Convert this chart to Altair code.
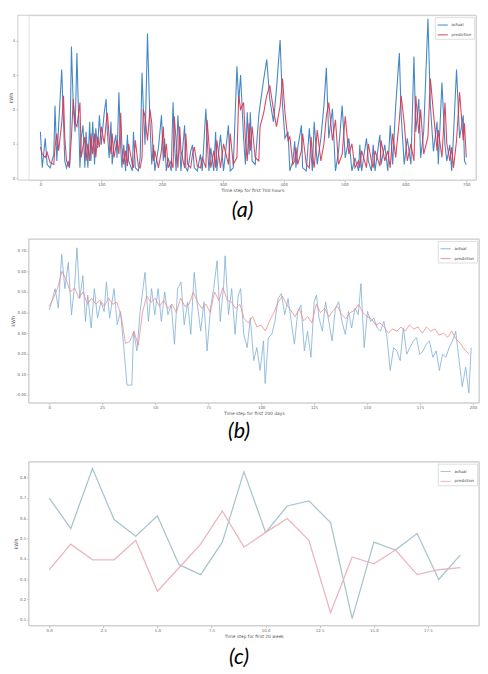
import altair as alt
import pandas as pd

SERIES = ["actual", "prediction"]
Y_TITLE = "kWh"
X_TITLES = ["Time step for first 700 hours", "Time step for first 200 days", "Time step for first 20 week"]
CAPTIONS = ["(a)", "(b)", "(c)"]

# ---------------- (a) hourly ----------------
A_HOURS = [0, 3, 8, 11, 16, 22, 24, 27, 30, 35, 38, 40, 43, 46, 48, 51, 54, 57, 60, 65, 67, 70, 73, 75, 78, 81, 83, 86, 89, 91,
           94, 97, 100, 105, 108, 110, 113, 116, 118, 121, 124, 126, 129, 132, 134, 137, 140, 143, 145, 151, 153, 156, 161, 164,
           167, 169, 172, 176, 180, 183, 186, 188, 194, 199, 202, 204, 207, 210, 215, 218, 220, 223, 226, 229, 231, 237, 239, 242,
           247, 250, 253, 258, 263, 266, 272, 274, 277, 280, 285, 288, 290, 296, 301, 309, 312, 317, 323, 326, 329, 334, 337, 340,
           343, 345, 348, 353, 359, 361, 367, 372, 377, 383, 388, 394, 398, 402, 407, 410, 415, 418, 420, 423, 429, 431, 437, 442,
           445, 447, 450, 455, 461, 466, 470, 474, 480, 485, 490, 496, 501, 507, 512, 517, 523, 525, 528, 536, 539, 544, 547, 550,
           558, 560, 566, 571, 575, 579, 584, 590, 593, 598, 603, 609, 614, 617, 622, 625, 630, 637, 641, 646, 652, 654, 660, 665,
           668, 673, 676, 679, 684, 689, 695, 697, 700]
A_ACTUAL = [1.35, 0.30, 1.16, 0.40, 0.30, 0.69, 2.11, 0.50, 1.54, 3.16, 1.64, 0.50, 0.30, 0.50, 0.30, 3.83, 2.11, 1.35, 3.64, 0.30,
            1.16, 1.54, 0.30, 1.35, 0.30, 1.64, 0.50, 1.64, 0.40, 1.45, 0.88, 1.83, 0.97, 1.92, 2.30, 1.35, 0.59, 1.64, 0.40, 0.97,
            1.26, 0.59, 2.50, 0.88, 0.30, 0.97, 0.21, 1.26, 0.50, 0.21, 1.35, 0.30, 0.21, 0.59, 3.07, 2.11, 0.97, 4.21, 1.64, 0.40,
            0.97, 0.21, 0.88, 1.83, 0.50, 1.16, 0.21, 0.59, 0.21, 2.21, 1.16, 0.21, 1.83, 0.88, 0.21, 1.54, 0.30, 0.21, 0.78, 0.97,
            0.30, 0.21, 0.69, 0.21, 2.02, 1.16, 0.21, 0.88, 0.21, 1.35, 0.21, 1.26, 0.21, 1.54, 0.21, 0.30, 3.26, 2.20, 3.00, 1.16,
            0.40, 1.92, 0.69, 1.92, 0.50, 0.40, 1.83, 2.11, 2.88, 3.45, 2.30, 1.64, 2.59, 4.02, 2.11, 1.16, 1.35, 0.21, 0.50, 1.07,
            0.30, 0.88, 1.54, 0.30, 0.21, 1.45, 0.69, 0.21, 1.64, 0.40, 1.16, 2.11, 3.21, 1.16, 2.02, 0.21, 0.78, 2.11, 0.59, 1.16,
            0.21, 0.59, 0.21, 0.97, 0.21, 1.16, 0.50, 0.21, 0.97, 0.21, 1.26, 0.40, 0.97, 0.21, 1.54, 0.40, 2.11, 3.64, 1.83, 0.40,
            1.16, 0.40, 3.54, 1.35, 2.30, 0.59, 1.35, 4.64, 2.11, 0.78, 1.64, 0.40, 2.78, 0.97, 0.50, 0.97, 0.21, 1.26, 3.16, 1.16,
            1.83, 0.50, 0.40]
A_PRED = [0.90, 0.70, 0.60, 0.75, 0.45, 0.40, 0.90, 1.30, 0.80, 1.60, 2.40, 1.20, 0.50, 0.35, 0.40, 1.20, 2.30, 1.60, 1.50, 2.20,
          0.60, 0.90, 1.20, 0.50, 1.00, 0.50, 1.30, 0.70, 1.30, 0.60, 1.20, 0.90, 1.50, 1.00, 1.60, 1.90, 1.20, 0.70, 1.30, 0.60,
          0.90, 1.10, 0.70, 1.90, 0.90, 0.40, 0.80, 0.35, 1.00, 0.40, 0.30, 1.10, 0.35, 0.30, 0.60, 2.00, 1.80, 1.10, 2.00, 1.60,
          0.50, 0.80, 0.30, 0.80, 1.50, 0.60, 1.00, 0.30, 0.50, 0.30, 1.80, 1.10, 0.30, 1.50, 0.80, 0.30, 1.30, 0.40, 0.30, 0.70,
          0.90, 0.35, 0.30, 0.60, 0.30, 1.70, 1.00, 0.30, 0.80, 0.30, 1.10, 0.30, 1.00, 0.40, 1.30, 0.40, 0.60, 2.40, 2.00, 2.20,
          1.10, 0.50, 1.60, 0.80, 1.50, 0.60, 0.50, 1.50, 1.90, 2.40, 2.70, 2.00, 1.50, 2.10, 2.90, 1.90, 1.10, 1.20, 0.40, 0.50,
          0.90, 0.40, 0.80, 1.30, 0.40, 0.30, 1.20, 0.70, 0.30, 1.40, 0.50, 1.00, 1.80, 2.20, 1.10, 1.70, 0.40, 0.70, 1.80, 0.70,
          1.00, 0.30, 0.50, 0.30, 0.80, 0.30, 1.00, 0.50, 0.30, 0.80, 0.35, 1.10, 0.50, 0.80, 0.30, 1.30, 0.60, 1.70, 2.40, 1.60,
          0.50, 1.00, 0.50, 2.40, 1.30, 2.00, 0.70, 1.20, 2.90, 1.90, 0.80, 1.40, 0.60, 2.20, 1.00, 0.50, 0.90, 0.30, 1.10, 2.50,
          1.10, 1.60, 0.60]

# ---------------- (b) daily ----------------
B_DAYS_ACT = [0, 1.2, 2.8, 4.3, 5.9, 7.4, 9.0, 10.5, 12.0, 13.1, 14.4, 15.9, 17.1, 18.2, 19.8, 21.3, 22.8, 24.4, 25.9, 27.0,
              28.5, 30.6, 32.1, 33.6, 35.2, 36.7, 39.0, 39.8, 41.4, 42.9, 45.2, 46.8, 48.3, 49.8, 51.4, 52.9, 54.5, 56.0, 57.6,
              59.1, 60.6, 62.2, 63.7, 65.3, 66.8, 68.4, 69.9, 71.5, 73.0, 74.5, 76.1, 77.6, 79.2, 80.7, 82.3, 83.0, 84.6, 86.1,
              87.7, 89.2, 90.3, 91.8, 93.4, 94.9, 96.5, 98.0, 99.5, 101.1, 101.9, 103.4, 105.0, 106.5, 108.0, 109.6, 111.1, 112.7,
              114.2, 115.7, 117.3, 118.8, 120.4, 121.9, 123.5, 125.0, 126.1, 127.3, 128.9, 130.4, 131.9, 133.5, 135.0, 136.6,
              138.1, 139.7, 141.2, 142.7, 144.3, 145.8, 147.1, 148.6, 150.2, 151.7, 153.2, 154.8, 156.3, 157.9, 159.4, 160.9,
              162.5, 164.0, 165.6, 167.1, 168.7, 170.2, 171.8, 173.3, 174.8, 176.4, 177.9, 179.4, 181.0, 182.6, 184.1, 185.6,
              187.2, 188.7, 190.3, 191.8, 193.4, 194.9, 196.5, 198.0, 199.1]
B_ACTUAL = [0.413, 0.452, 0.516, 0.421, 0.683, 0.516, 0.643, 0.389, 0.532, 0.714, 0.468, 0.579, 0.357, 0.484, 0.325, 0.516,
            0.373, 0.452, 0.405, 0.548, 0.373, 0.516, 0.341, 0.405, 0.230, 0.048, 0.048, 0.310, 0.214, 0.405, 0.595, 0.357,
            0.516, 0.389, 0.516, 0.357, 0.500, 0.389, 0.437, 0.246, 0.516, 0.548, 0.341, 0.452, 0.294, 0.595, 0.437, 0.310,
            0.452, 0.214, 0.421, 0.516, 0.651, 0.357, 0.532, 0.675, 0.389, 0.516, 0.294, 0.484, 0.516, 0.294, 0.230, 0.373,
            0.167, 0.230, 0.119, 0.262, 0.056, 0.278, 0.294, 0.357, 0.468, 0.492, 0.389, 0.468, 0.357, 0.246, 0.405, 0.437,
            0.214, 0.310, 0.183, 0.452, 0.484, 0.373, 0.310, 0.452, 0.357, 0.262, 0.421, 0.452, 0.357, 0.294, 0.405, 0.325,
            0.421, 0.389, 0.540, 0.230, 0.405, 0.357, 0.373, 0.325, 0.310, 0.357, 0.278, 0.119, 0.230, 0.214, 0.167, 0.325,
            0.198, 0.230, 0.262, 0.278, 0.198, 0.214, 0.246, 0.262, 0.183, 0.214, 0.119, 0.198, 0.183, 0.230, 0.262, 0.310,
            0.167, 0.040, 0.135, 0.010, 0.230]
B_DAYS_PRED = list(range(0, 200, 2))
B_PRED = [0.43, 0.47, 0.52, 0.60, 0.56, 0.50, 0.52, 0.47, 0.50, 0.44, 0.47, 0.44, 0.46, 0.43, 0.47, 0.44, 0.45, 0.38, 0.25, 0.26,
          0.31, 0.24, 0.40, 0.48, 0.45, 0.47, 0.43, 0.46, 0.42, 0.44, 0.40, 0.47, 0.43, 0.44, 0.50, 0.45, 0.42, 0.44, 0.40, 0.50,
          0.46, 0.52, 0.46, 0.45, 0.42, 0.44, 0.37, 0.35, 0.38, 0.33, 0.34, 0.31, 0.36, 0.40, 0.45, 0.48, 0.44, 0.41, 0.38, 0.42,
          0.36, 0.38, 0.35, 0.44, 0.40, 0.42, 0.38, 0.41, 0.43, 0.39, 0.37, 0.40, 0.41, 0.44, 0.40, 0.38, 0.37, 0.34, 0.35, 0.33,
          0.30, 0.32, 0.31, 0.33, 0.31, 0.34, 0.32, 0.33, 0.30, 0.33, 0.31, 0.32, 0.29, 0.30, 0.28, 0.31, 0.27, 0.25, 0.22, 0.20]

# ---------------- (c) weekly ----------------
C_WEEKS = list(range(20))
C_ACTUAL = [0.699, 0.549, 0.844, 0.593, 0.511, 0.612, 0.371, 0.322, 0.482, 0.829, 0.530, 0.660, 0.685, 0.578, 0.105, 0.482,
            0.443, 0.525, 0.298, 0.419]
C_PRED = [0.346, 0.472, 0.395, 0.395, 0.491, 0.240, 0.356, 0.472, 0.636, 0.457, 0.530, 0.598, 0.491, 0.134, 0.409, 0.375,
          0.443, 0.322, 0.346, 0.356]


def long_df(x1, y1, x2, y2):
    return pd.DataFrame({
        "t": list(x1) + list(x2),
        "v": list(y1) + list(y2),
        "s": [SERIES[0]] * len(x1) + [SERIES[1]] * len(x2),
    })


def make_panel(df, w, h, xdom, xticks, xfmt, xtitle, ydom, yticks, yfmt, colors, sw, op,
               caption, cap_offset, cap_dx, ytitle_x, frame_left, yoffset):
    xax = alt.Axis(values=xticks, format=xfmt, title=xtitle, grid=False, domain=False,
                   tickSize=2, tickColor="#a0a0a0", tickWidth=0.6, labelFontSize=4,
                   labelColor="#666666", labelPadding=1, titleFontSize=4.5, titleColor="#555555",
                   titleFontWeight="normal", titlePadding=1)
    yax = alt.Axis(values=yticks, format=yfmt, title=Y_TITLE, grid=False, domain=False,
                   tickSize=2, tickColor="#a0a0a0", tickWidth=0.6, labelFontSize=4,
                   labelColor="#666666", labelPadding=1, titleFontSize=5, titleColor="#555555",
                   titleFontWeight="normal", titleX=ytitle_x, offset=yoffset)
    lines = alt.Chart(df).mark_line(strokeWidth=sw, opacity=op, clip=True).encode(
        x=alt.X("t:Q", scale=alt.Scale(domain=xdom, nice=False, zero=False), axis=xax),
        y=alt.Y("v:Q", scale=alt.Scale(domain=ydom, nice=False, zero=False), axis=yax),
        color=alt.Color("s:N", scale=alt.Scale(domain=SERIES, range=colors),
                        legend=alt.Legend(title=None, orient="top-right", symbolType="stroke",
                                          symbolSize=110, symbolStrokeWidth=1, labelFontSize=4,
                                          labelColor="#444444", rowPadding=2, padding=2, offset=2,
                                          strokeColor="#dddddd", fillColor="white", labelOffset=3)),
    )
    frame = alt.Chart(pd.DataFrame({"k": [0]})).mark_rect(filled=False, stroke="#cccccc", strokeWidth=1).encode(
        x=alt.value(frame_left), x2=alt.value(w), y=alt.value(0), y2=alt.value(h)
    )
    return alt.layer(frame, lines).properties(
        width=w, height=h,
        title=alt.TitleParams(caption, orient="bottom", anchor="middle", fontSize=22, font="Lato",
                              fontStyle="italic", fontWeight="normal", color="#000000",
                              offset=cap_offset, dx=cap_dx),
    )


pa = make_panel(long_df(A_HOURS, A_ACTUAL, A_HOURS, A_PRED), 456, 168,
                [-19.4, 716.1], list(range(0, 701, 100)), "d", X_TITLES[0],
                [-0.057, 4.743], [0, 1, 2, 3, 4], "d",
                ["#2f7bbf", "#d8324c"], 1.1, 0.9, CAPTIONS[0], 8, -10, -4, -11, 11)
pb = make_panel(long_df(B_DAYS_ACT, B_ACTUAL, B_DAYS_PRED, B_PRED), 459, 167,
                [-9.72, 202.8], list(range(0, 201, 25)), "d", X_TITLES[1],
                [-0.038, 0.757], [0, 0.1, 0.2, 0.3, 0.4, 0.5, 0.6, 0.7], ".2f",
                ["#7cb0d8", "#ef8c8c"], 0.9, 0.9, CAPTIONS[1], 6, -15, -13, 0, 0)
pc = make_panel(long_df(C_WEEKS, C_ACTUAL, C_WEEKS, C_PRED), 459, 167,
                [-0.95, 19.86], [0, 2.5, 5, 7.5, 10, 12.5, 15, 17.5], ".1f", X_TITLES[2],
                [0.071, 0.878], [0.1, 0.2, 0.3, 0.4, 0.5, 0.6, 0.7, 0.8], ".1f",
                ["#a3c2ca", "#ebb0b9"], 1.3, 0.95, CAPTIONS[2], 10, -15, -10, 0, 0)

chart = alt.vconcat(pa, pb, pc, spacing=60, bounds="flush").resolve_scale(
    color="independent", x="independent", y="independent"
).resolve_legend(color="independent").properties(
    padding={"left": 0, "top": 0, "right": 0, "bottom": 0}
).configure_view(strokeWidth=0).configure(font="DejaVu Sans")

chart.save("out.html", embed_options={"renderer": "svg", "actions": False})
